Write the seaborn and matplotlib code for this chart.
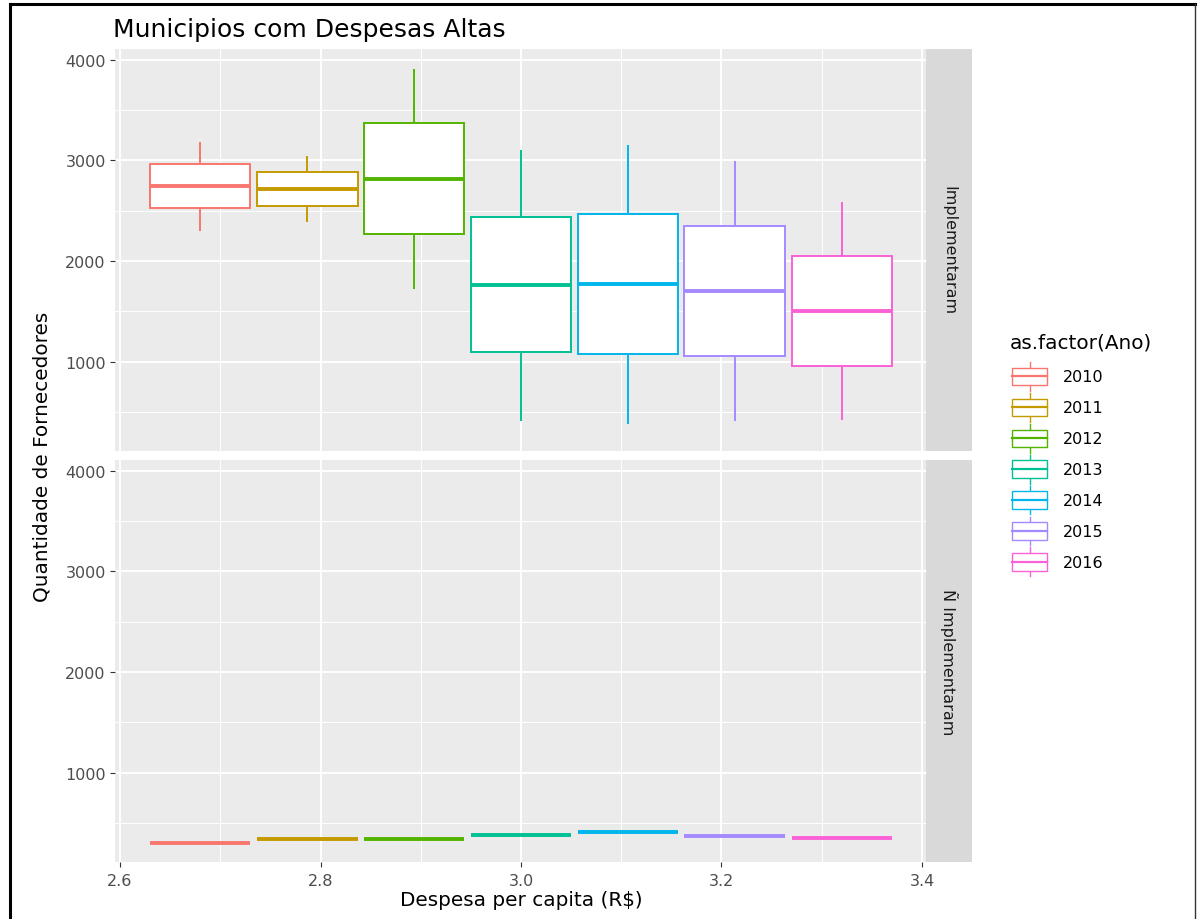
import numpy as np
import pandas as pd
import matplotlib
matplotlib.use("Agg")
import matplotlib.pyplot as plt
import seaborn as sns
from matplotlib.legend_handler import HandlerBase
from matplotlib.patches import Rectangle, Patch
from matplotlib.lines import Line2D

# ---------------- data ----------------
anos = ["2010", "2011", "2012", "2013", "2014", "2015", "2016"]
despesa = [2.680, 2.787, 2.893, 3.000, 3.107, 3.213, 3.320]
cores = ["#F8766D", "#C49A00", "#53B400", "#00C094", "#00B6EB", "#A58AFF", "#FB61D7"]

# five-number summaries, panel "Implementaram"
impl_min = [2300, 2390, 1720, 410, 380, 410, 420]
impl_q1 = [2525, 2550, 2270, 1090, 1070, 1055, 955]
impl_med = [2745, 2715, 2815, 1765, 1770, 1705, 1505]
impl_q3 = [2960, 2880, 3370, 2435, 2465, 2350, 2050]
impl_max = [3180, 3045, 3910, 3105, 3155, 2990, 2585]
# panel "Ñ Implementaram" (collapsed boxes)
nao_impl = [300, 340, 335, 375, 405, 372, 345]

paineis = ["Implementaram", "Ñ Implementaram"]
x_ticks = [2.6, 2.8, 3.0, 3.2, 3.4]
x_minor = [2.7, 2.9, 3.1, 3.3]
y_ticks = [1000, 2000, 3000, 4000]
y_minor = [500, 1500, 2500, 3500]

rows = []
for i, ano in enumerate(anos):
    for v in (impl_min[i], impl_q1[i], impl_med[i], impl_q3[i], impl_max[i]):
        rows.append({"painel": paineis[0], "ano": ano, "despesa": despesa[i], "qtd": v})
    for _ in range(5):
        rows.append({"painel": paineis[1], "ano": ano, "despesa": despesa[i], "qtd": nao_impl[i]})
df = pd.DataFrame(rows)

# ---------------- figure ----------------
plt.rcParams["font.family"] = ["DejaVu Sans"]
W, H = 1198, 920
fig = plt.figure(figsize=(W / 100, H / 100), dpi=100)
fig.patch.set_facecolor("white")


def fx(px):
    return px / W


def fy(py):
    return 1 - py / H


P_LEFT, P_RIGHT, S_RIGHT = 115, 926, 972
tops = [50, 461]
bottoms = [452, 863]

for k, painel in enumerate(paineis):
    ax = fig.add_axes([fx(P_LEFT), fy(bottoms[k]), (P_RIGHT - P_LEFT) / W,
                       (bottoms[k] - tops[k]) / H])
    ax.set_facecolor("#EBEBEB")
    for s in ax.spines.values():
        s.set_visible(False)
    ax.set_axisbelow(True)

    sub_p = df[df["painel"] == painel]
    for i, ano in enumerate(anos):
        sub = sub_p[sub_p["ano"] == ano]
        sns.boxplot(data=sub, x="despesa", y="qtd", orient="x", native_scale=True,
                    color=cores[i], linecolor=cores[i], saturation=1, width=0.1,
                    fill=True, showcaps=False, whis=(0, 100), linewidth=1.4,
                    medianprops={"linewidth": 2.8}, ax=ax)
    for p in ax.patches:
        p.set_facecolor("white")

    ax.set_xlim(2.595, 3.404)
    ax.set_ylim(111, 4105)
    ax.set_xticks(x_ticks)
    ax.set_xticks(x_minor, minor=True)
    ax.set_yticks(y_ticks)
    ax.set_yticks(y_minor, minor=True)
    ax.set_yticklabels([str(v) for v in y_ticks])
    ax.set_xticklabels([f"{v:.1f}" for v in x_ticks])
    ax.grid(which="major", color="white", linewidth=1.4)
    ax.grid(which="minor", color="white", linewidth=0.7)
    ax.tick_params(which="minor", length=0)
    ax.tick_params(which="major", length=3.6, width=0.8, color="#333333",
                   labelsize=11.5, labelcolor="#4D4D4D", pad=3)
    ax.tick_params(axis="x", which="major", pad=4)
    ax.set_xlabel("")
    ax.set_ylabel("")
    if k == 0:
        ax.tick_params(axis="x", which="both", bottom=False, labelbottom=False)

    sax = fig.add_axes([fx(P_RIGHT), fy(bottoms[k]), (S_RIGHT - P_RIGHT) / W,
                        (bottoms[k] - tops[k]) / H])
    sax.set_facecolor("#D9D9D9")
    sax.set_xticks([])
    sax.set_yticks([])
    for s in sax.spines.values():
        s.set_visible(False)
    sax.text(0.5, 0.5, painel, rotation=-90, ha="center", va="center",
             fontsize=11.5, color="#1A1A1A", transform=sax.transAxes)

# ---------------- texts ----------------
fig.text(fx(113), fy(30), "Municipios com Despesas Altas", ha="left", va="center",
         fontsize=18, color="black")
fig.text(fx(521), fy(901), "Despesa per capita (R$)", ha="center", va="center",
         fontsize=14.4, color="black")
fig.text(fx(42), fy(457), "Quantidade de Fornecedores", rotation=90, ha="center",
         va="center", fontsize=14.4, color="black")


# ---------------- legend ----------------
class BoxGlyph(HandlerBase):
    def create_artists(self, legend, orig_handle, xdescent, ydescent, width, height,
                       fontsize, trans):
        c = orig_handle.get_edgecolor()
        x0, y0 = -xdescent, -ydescent
        lo, hi = y0 + 0.2 * height, y0 + 0.8 * height
        xm = x0 + width / 2
        w1 = Line2D([xm, xm], [y0, lo], color=c, lw=1.0, transform=trans)
        w2 = Line2D([xm, xm], [hi, y0 + height], color=c, lw=1.0, transform=trans)
        rect = Rectangle((x0, lo), width, hi - lo, facecolor="white", edgecolor=c,
                         lw=1.0, transform=trans)
        med = Line2D([x0, x0 + width], [y0 + height / 2] * 2, color=c, lw=1.6,
                     transform=trans)
        return [w1, w2, rect, med]


fig.text(fx(1010), fy(343), "as.factor(Ano)", ha="left", va="center",
         fontsize=14.4, color="black")
handles = [Patch(facecolor="white", edgecolor=c, label=a) for a, c in zip(anos, cores)]
fig.legend(handles=handles, handler_map={Patch: BoxGlyph()}, loc="upper left",
           bbox_to_anchor=(fx(1012), fy(363)), frameon=False,
           fontsize=11.5, handlelength=2.2, handleheight=2.4,
           labelspacing=0.13, handletextpad=1.0, borderpad=0, borderaxespad=0)

# ---------------- screenshot frame ----------------
fig.add_artist(Line2D([fx(10), fx(1195)], [fy(5), fy(5)], color="black", lw=2.2,
                      transform=fig.transFigure))
fig.add_artist(Line2D([fx(10), fx(10)], [fy(5), fy(925)], color="black", lw=2.2,
                      transform=fig.transFigure))
fig.add_artist(Line2D([fx(1195), fx(1195)], [fy(5), fy(925)], color="#333333", lw=1.0,
                      transform=fig.transFigure))

fig.savefig("out.png", dpi=100)
